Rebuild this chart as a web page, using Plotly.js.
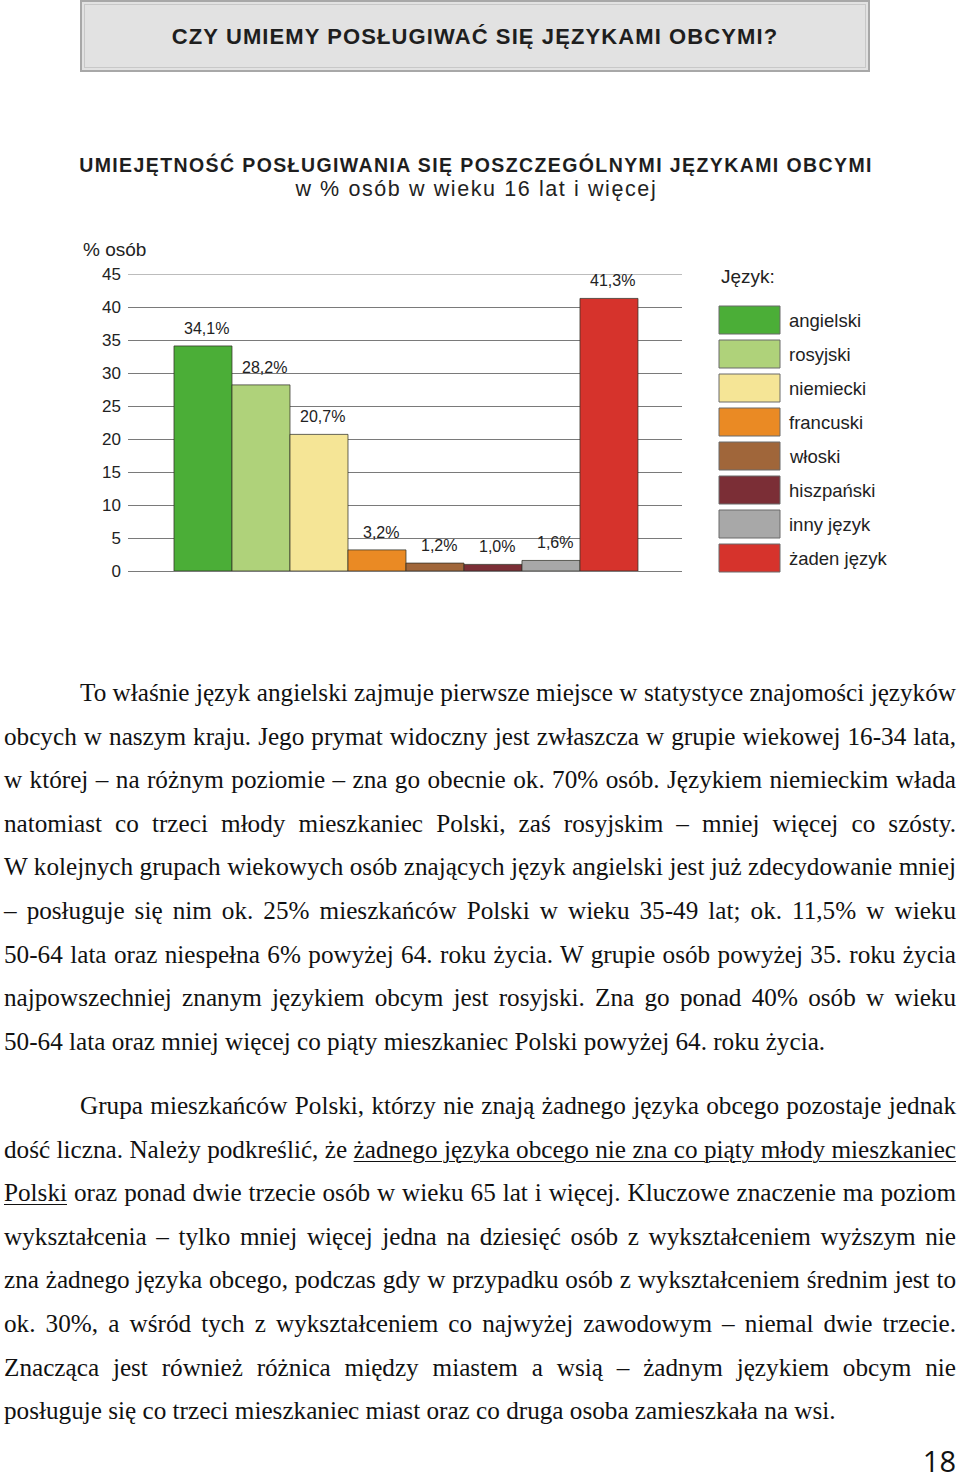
<!DOCTYPE html>
<html lang="pl">
<head>
<meta charset="utf-8">
<title>Czy umiemy posługiwać się językami obcymi?</title>
<script src="https://cdn.plot.ly/plotly-3.0.1.min.js"></script>
<style>
  html, body { margin: 0; padding: 0; background: #fff; }
  body { width: 960px; height: 1480px; position: relative; overflow: hidden; }
  #naglowek {
    position: absolute; left: 80px; top: 0; width: 786px; height: 68px;
    background: #e2e2e2; border: 2px solid #a8a8a8; outline: 1px solid #c8c8c8; outline-offset: -5px;
    font-family: "Liberation Sans", Arial, sans-serif; font-weight: bold; font-size: 22px;
    color: #1e1e1e; text-align: center; line-height: 70px; letter-spacing: 1.1px;
  }
  #wykres { position: absolute; left: 0; top: 0; width: 960px; height: 600px; }
  #wykres .gtitle { letter-spacing: 1.4px; }
  #wykres .podtytul text { letter-spacing: 1.6px; }
  .tekst {
    position: absolute; left: 4px; width: 952px;
    font-family: "Liberation Serif", "Times New Roman", serif; font-size: 25.2px; color: #111;
    line-height: 43.6px;
  }
  .tekst div { text-align: justify; text-align-last: justify; white-space: nowrap; }
  .tekst div.wciecie { padding-left: 76px; }
  .tekst div.ostatnia { text-align-last: left; }
  u { text-decoration-thickness: 1px; text-underline-offset: 3px; }
  #strona {
    position: absolute; right: 4px; top: 1446px; line-height: 29px;
    font-family: "Open Sans", "Noto Sans", sans-serif; font-size: 29px; color: #111;
  }
</style>
</head>
<body>
<div id="naglowek">CZY UMIEMY POSŁUGIWAĆ SIĘ JĘZYKAMI OBCYMI?</div>
<div id="wykres"></div>

<div class="tekst" style="top:671px">
  <div class="wciecie">To właśnie język angielski zajmuje pierwsze miejsce w statystyce znajomości języków</div>
  <div>obcych w naszym kraju. Jego prymat widoczny jest zwłaszcza w grupie wiekowej 16-34 lata,</div>
  <div>w której – na różnym poziomie – zna go obecnie ok. 70% osób. Językiem niemieckim włada</div>
  <div>natomiast co trzeci młody mieszkaniec Polski, zaś rosyjskim – mniej więcej co szósty.</div>
  <div>W kolejnych grupach wiekowych osób znających język angielski jest już zdecydowanie mniej</div>
  <div>– posługuje się nim ok. 25% mieszkańców Polski w wieku 35-49 lat; ok. 11,5% w wieku</div>
  <div>50-64 lata oraz niespełna 6% powyżej 64. roku życia. W grupie osób powyżej 35. roku życia</div>
  <div>najpowszechniej znanym językiem obcym jest rosyjski. Zna go ponad 40% osób w wieku</div>
  <div class="ostatnia">50-64 lata oraz mniej więcej co piąty mieszkaniec Polski powyżej 64. roku życia.</div>
</div>

<div class="tekst" style="top:1084px">
  <div class="wciecie">Grupa mieszkańców Polski, którzy nie znają żadnego języka obcego pozostaje jednak</div>
  <div>dość liczna. Należy podkreślić, że <u>żadnego języka obcego nie zna co piąty młody mieszkaniec</u></div>
  <div><u>Polski</u> oraz ponad dwie trzecie osób w wieku 65 lat i więcej. Kluczowe znaczenie ma poziom</div>
  <div>wykształcenia – tylko mniej więcej jedna na dziesięć osób z wykształceniem wyższym nie</div>
  <div>zna żadnego języka obcego, podczas gdy w przypadku osób z wykształceniem średnim jest to</div>
  <div>ok. 30%, a wśród tych z wykształceniem co najwyżej zawodowym – niemal dwie trzecie.</div>
  <div>Znacząca jest również różnica między miastem a wsią – żadnym językiem obcym nie</div>
  <div class="ostatnia">posługuje się co trzeci mieszkaniec miast oraz co druga osoba zamieszkała na wsi.</div>
</div>

<div id="strona">18</div>

<script>
// Dane (% osób w wieku 16 lat i więcej)
const jezyki = ['angielski', 'rosyjski', 'niemiecki', 'francuski', 'włoski', 'hiszpański', 'inny język', 'żaden język'];
const procenty = [34.1, 28.2, 20.7, 3.2, 1.2, 1.0, 1.6, 41.3];
const kolory = ['#4bae37', '#afd27a', '#f5e596', '#ea8a24', '#a0663a', '#7b2e36', '#a8a8a8', '#d6332c'];
const yTicks = [0, 5, 10, 15, 20, 25, 30, 35, 40, 45];

document.addEventListener('DOMContentLoaded', function() {

    if (typeof Plotly === 'undefined') {
        document.getElementById('wykres').textContent = 'Błąd: nie udało się wczytać Plotly.';
        return;
    }

    const czcionka = '"Liberation Sans", Arial, sans-serif';

    // etykiety nad słupkami, np. "34,1%"
    const etykiety = jezyki.map(function(j, i) {
        return {
            x: j, y: procenty[i], xref: 'x', yref: 'y',
            text: procenty[i].toFixed(1).replace('.', ',') + '%',
            showarrow: false, yanchor: 'bottom', yshift: 7, xshift: 4,
            font: { family: czcionka, size: 16, color: '#222' }
        };
    });

    // legenda rysowana ręcznie (duże prostokąty jak w oryginale)
    const legendaX0 = 719, legendaX1 = 780, legendaTop = 306, krok = 34, wys = 28;
    const plotL = 128, plotR = 682, plotTop = 274, plotBot = 571;
    const px2x = function(px) { return (px - plotL) / (plotR - plotL); };
    const px2y = function(py) { return (plotBot - py) / (plotBot - plotTop); };

    const ksztalty = [];
    jezyki.forEach(function(j, i) {
        const top = legendaTop + i * krok;
        ksztalty.push({
            type: 'rect', xref: 'paper', yref: 'paper',
            x0: px2x(legendaX0), x1: px2x(legendaX1),
            y0: px2y(top + wys), y1: px2y(top),
            fillcolor: kolory[i], line: { color: '#6b6b6b', width: 1 }
        });
        etykiety.push({
            xref: 'paper', yref: 'paper', x: px2x(legendaX1 + 7), y: px2y(top + wys / 2),
            xanchor: 'left', yanchor: 'middle', showarrow: false, text: j,
            font: { family: czcionka, size: 18.5, color: '#222' }
        });
    });
    // górna linia siatki (45) – Plotly nie rysuje jej na krawędzi zakresu
    ksztalty.push({
        type: 'line', xref: 'paper', yref: 'y', x0: 0, x1: 1, y0: yTicks[yTicks.length - 1], y1: yTicks[yTicks.length - 1],
        line: { color: '#7a7a7a', width: 1 }, layer: 'below'
    });
    etykiety.push({
        xref: 'paper', yref: 'paper', x: px2x(719), y: px2y(276),
        xanchor: 'left', yanchor: 'middle', showarrow: false, text: 'Język:',
        font: { family: czcionka, size: 19, color: '#222' }
    });
    etykiety.push({
        xref: 'paper', yref: 'paper', x: px2x(81), y: px2y(249),
        xanchor: 'left', yanchor: 'middle', showarrow: false, text: '% osób',
        font: { family: czcionka, size: 19, color: '#222' }
    });
    etykiety.push({
        xref: 'paper', yref: 'paper', x: px2x(476), y: px2y(189),
        xanchor: 'center', yanchor: 'middle', showarrow: false,
        text: 'w % osób w wieku 16 lat i więcej', name: 'podtytul',
        font: { family: czcionka, size: 21.5, color: '#222' }
    });

    const dane = [{
        type: 'bar',
        x: jezyki,
        y: procenty,
        width: 1,
        marker: { color: kolory, line: { color: 'rgba(50,50,40,0.75)', width: 1 } },
        hoverinfo: 'x+y',
        showlegend: false
    }];

    const layout = {
        width: 960, height: 600,
        margin: { l: plotL, r: 960 - plotR, t: plotTop, b: 600 - plotBot, pad: 0 },
        paper_bgcolor: 'rgba(0,0,0,0)',
        plot_bgcolor: 'rgba(0,0,0,0)',
        title: {
            text: '<b>UMIEJĘTNOŚĆ POSŁUGIWANIA SIĘ POSZCZEGÓLNYMI JĘZYKAMI OBCYMI</b>',
            x: 476 / 960, xanchor: 'center', xref: 'container',
            y: 1 - 165 / 600, yanchor: 'middle', yref: 'container',
            font: { family: czcionka, size: 19.5, color: '#1e1e1e' }
        },
        bargap: 0,
        xaxis: {
            type: 'category',
            range: [-1.293, 8.259],
            showticklabels: false, showgrid: false, zeroline: false, showline: false, ticks: ''
        },
        yaxis: {
            range: [0, 45],
            tickvals: yTicks,
            ticktext: yTicks.map(String),
            showgrid: true, gridcolor: '#7a7a7a', gridwidth: 1,
            zeroline: true, zerolinecolor: '#7a7a7a', zerolinewidth: 1,
            showline: false, ticks: '', ticklabelstandoff: 6,
            tickfont: { family: czcionka, size: 17, color: '#222' }
        },
        annotations: etykiety,
        shapes: ksztalty,
        font: { family: czcionka }
    };

    Plotly.newPlot('wykres', dane, layout, { displayModeBar: false, staticPlot: true }).then(function(gd) {
        // odstępy między literami w podtytule (jak w oryginale)
        const podtytul = gd.querySelector('.annotation[data-index="' + (etykiety.length - 1) + '"]');
        if (podtytul) podtytul.classList.add('podtytul');
    });
});
</script>
</body>
</html>
